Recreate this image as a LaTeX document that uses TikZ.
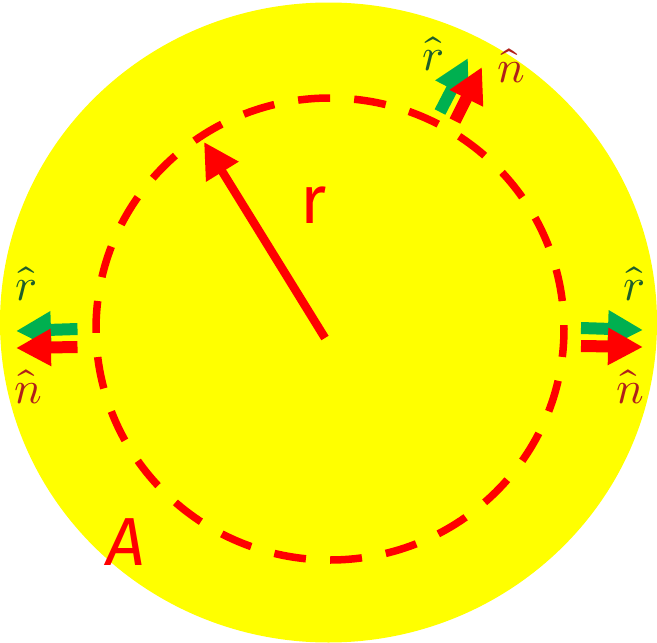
\documentclass[tikz,border=0pt]{standalone}
\usepackage{fontspec}
\usepackage{unicode-math}
\setmathfont{Latin Modern Math}
\usetikzlibrary{arrows.meta}
\newfontfamily\labfont{Fira Sans}
\definecolor{disk}{HTML}{FFFF00}
\definecolor{vred}{HTML}{FF0000}
\definecolor{vgreen}{HTML}{00B050}
\definecolor{rtxt}{HTML}{1F5E2A}
\definecolor{ntxt}{HTML}{B0201A}
\tikzset{
  unitvec/.style={line width=12pt, -{Triangle[length=35pt,width=35pt]}},
  greenvec/.style={unitvec, draw=vgreen, fill=vgreen},
  redvec/.style={unitvec, draw=vred, fill=vred},
  rlab/.style={inner sep=0pt, text=rtxt, font=\fontsize{46}{46}\selectfont},
  nlab/.style={inner sep=0pt, text=ntxt, font=\fontsize{46}{46}\selectfont},
  biglab/.style={inner sep=0pt, text=vred, font=\labfont\fontsize{68}{68}\selectfont},
}
\begin{document}
\begin{tikzpicture}[x=1pt,y=-1pt]
\useasboundingbox (0,0) rectangle (657,643);
\clip (0,0) rectangle (657,643);
\fill[disk] (328.5,322.5) ellipse [x radius=328.5, y radius=320];
\draw[vred, line width=7.5pt, dash pattern=on 32pt off 24.2pt, dash phase=4pt] (564,329) arc [start angle=0, end angle=360, x radius=234, y radius=231];
% radius arrow
\coordinate (c) at (325,338);
\coordinate (rt) at (204,142);
\draw[vred, fill=vred, line width=8.5pt, -{Triangle[length=35pt,width=36pt]}] (c) -- (rt);
\node[biglab] (rl) at (314,205) {r};
\node[biglab] (al) at (126,542) {\itshape A};
% left vectors
\coordinate (lg0) at (77.5,329);
\coordinate (lg1) at (16,331);
\coordinate (lr0) at (77.5,347);
\coordinate (lr1) at (16,348);
\draw[greenvec] (lg0) -- (lg1);
\draw[redvec] (lr0) -- (lr1);
% right vectors
\coordinate (rg0) at (581,328);
\coordinate (rg1) at (643,330);
\coordinate (rr0) at (581,346);
\coordinate (rr1) at (643,347);
\draw[greenvec] (rg0) -- (rg1);
\draw[redvec] (rr0) -- (rr1);
% top vectors
\coordinate (tg0) at (440,112);
\coordinate (tg1) at (468,58);
\coordinate (tr0) at (455,121);
\coordinate (tr1) at (482,67);
\draw[greenvec] (tg0) -- (tg1);
\draw[redvec] (tr0) -- (tr1);
% labels
\node[rlab] (rL) at (26,284) {$\hat{r}$};
\node[nlab] (nL) at (28,387) {$\hat{n}$};
\node[rlab] (rR) at (634,284) {$\hat{r}$};
\node[nlab] (nR) at (630,387) {$\hat{n}$};
\node[rlab] (rT) at (433,54) {$\hat{r}$};
\node[nlab] (nT) at (511,66) {$\hat{n}$};
\end{tikzpicture}
\end{document}
